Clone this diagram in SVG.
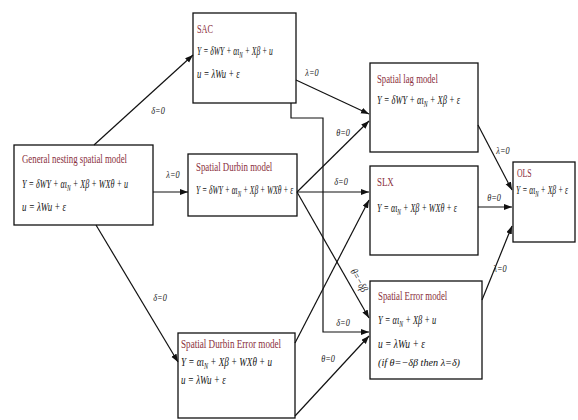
<svg xmlns="http://www.w3.org/2000/svg" width="578" height="420" viewBox="0 0 578 420">
<style>
.box{fill:#fff;stroke:#111;stroke-width:1.3}
.t{font-family:"Liberation Serif",serif;font-size:12.5px;fill:#8a2f3c}
.e{font-family:"Liberation Serif",serif;font-size:12.5px;font-style:italic;fill:#111}
.s{font-size:8.5px}
.lbl{font-family:"Liberation Serif",serif;font-size:11px;font-style:italic;fill:#222;text-anchor:middle}
.c{fill:none;stroke:#111;stroke-width:1.2;marker-end:url(#ah)}
</style>
<defs>
<marker id="ah" markerUnits="userSpaceOnUse" markerWidth="9" markerHeight="7" refX="8" refY="3" orient="auto">
<path d="M0,0 L8,3 L0,6 z" fill="#111"/>
</marker>
</defs>
<rect width="578" height="420" fill="#fff"/>

<g id="general">
<rect class="box" x="14" y="145" width="139" height="80"/>
<text class="t" transform="translate(22,163) scale(0.7,1)" textLength="150" lengthAdjust="spacingAndGlyphs">General nesting spatial model</text>
<text class="e" transform="translate(22,188) scale(0.65,1)" textLength="163" lengthAdjust="spacingAndGlyphs">Y = δWY + αι<tspan class="s" dy="3">N</tspan><tspan dy="-3"> + Xβ + WXθ + u</tspan></text>
<text class="e" transform="translate(22,211) scale(0.7,1)" textLength="63" lengthAdjust="spacingAndGlyphs">u = λWu + ε</text>
</g>

<g id="sac">
<rect class="box" x="193" y="13" width="103" height="90"/>
<text class="t" transform="translate(197,33) scale(0.7,1)" textLength="23" lengthAdjust="spacingAndGlyphs">SAC</text>
<text class="e" transform="translate(197,55) scale(0.61,1)" textLength="124.5" lengthAdjust="spacingAndGlyphs">Y = δWY + αι<tspan class="s" dy="3">N</tspan><tspan dy="-3"> + Xβ + u</tspan></text>
<text class="e" transform="translate(197,78) scale(0.7,1)" textLength="61" lengthAdjust="spacingAndGlyphs">u = λWu + ε</text>
</g>

<g id="durbin">
<rect class="box" x="188" y="154" width="109" height="62"/>
<text class="t" transform="translate(196,171) scale(0.7,1)" textLength="109" lengthAdjust="spacingAndGlyphs">Spatial Durbin model</text>
<text class="e" transform="translate(196,194) scale(0.6,1)" textLength="162" lengthAdjust="spacingAndGlyphs">Y = δWY + αι<tspan class="s" dy="3">N</tspan><tspan dy="-3"> + Xβ + WXθ + ε</tspan></text>
</g>

<g id="durbinError">
<rect class="box" x="178" y="333" width="117" height="85"/>
<text class="t" transform="translate(181,348) scale(0.7,1)" textLength="143" lengthAdjust="spacingAndGlyphs">Spatial Durbin Error model</text>
<text class="e" transform="translate(181,366) scale(0.7,1)" textLength="130" lengthAdjust="spacingAndGlyphs">Y = αι<tspan class="s" dy="3">N</tspan><tspan dy="-3"> + Xβ + WXθ + u</tspan></text>
<text class="e" transform="translate(181,384) scale(0.7,1)" textLength="64" lengthAdjust="spacingAndGlyphs">u = λWu + ε</text>
</g>

<g id="lag">
<rect class="box" x="370" y="63" width="108" height="89"/>
<text class="t" transform="translate(377,83) scale(0.7,1)" textLength="87" lengthAdjust="spacingAndGlyphs">Spatial lag model</text>
<text class="e" transform="translate(377,104) scale(0.67,1)" textLength="124" lengthAdjust="spacingAndGlyphs">Y = δWY + αι<tspan class="s" dy="3">N</tspan><tspan dy="-3"> + Xβ + ε</tspan></text>
</g>

<g id="slx">
<rect class="box" x="370" y="166" width="108" height="89"/>
<text class="t" transform="translate(377,186) scale(0.7,1)" textLength="24" lengthAdjust="spacingAndGlyphs">SLX</text>
<text class="e" transform="translate(377,212) scale(0.645,1)" textLength="124" lengthAdjust="spacingAndGlyphs">Y = αι<tspan class="s" dy="3">N</tspan><tspan dy="-3"> + Xβ + WXθ + ε</tspan></text>
</g>

<g id="error">
<rect class="box" x="370" y="281" width="112" height="98"/>
<text class="t" transform="translate(378,300) scale(0.7,1)" textLength="99" lengthAdjust="spacingAndGlyphs">Spatial Error model</text>
<text class="e" transform="translate(378,324) scale(0.67,1)" textLength="87" lengthAdjust="spacingAndGlyphs">Y = αι<tspan class="s" dy="3">N</tspan><tspan dy="-3"> + Xβ + u</tspan></text>
<text class="e" transform="translate(378,348) scale(0.7,1)" textLength="67" lengthAdjust="spacingAndGlyphs">u = λWu + ε</text>
<text class="e" x="378" y="366" style="font-size:10.5px" textLength="82" lengthAdjust="spacingAndGlyphs">(if θ=−δβ then λ=δ)</text>
</g>

<g id="ols">
<rect class="box" x="513" y="162" width="62" height="80"/>
<text class="t" transform="translate(517,177) scale(0.7,1)" textLength="21" lengthAdjust="spacingAndGlyphs">OLS</text>
<text class="e" transform="translate(516,194) scale(0.605,1)" textLength="86" lengthAdjust="spacingAndGlyphs">Y = αι<tspan class="s" dy="3">N</tspan><tspan dy="-3"> + Xβ + ε</tspan></text>
</g>

<g id="connectors">
<path class="c" d="M94,145 L193,55"/>
<path class="c" d="M153,192 L188,192"/>
<path class="c" d="M96,225 L178,362"/>
<path class="c" d="M296,80 L369,114"/>
<path class="c" d="M297,192 L369,121"/>
<path class="c" d="M297,192 L369,192"/>
<path class="c" d="M297,192 L369,318"/>
<path class="c" d="M295,343 L369,200"/>
<path class="c" d="M295,416 L369,336"/>
<path class="c" d="M291,103 L291,118 L323,118 L323,332 L369,332"/>
<path class="c" d="M478,125 L512,190"/>
<path class="c" d="M478,207 L512,207"/>
<path class="c" d="M482,300 L512,226"/>
</g>

<g id="labels">
<text class="lbl" transform="translate(158,114) scale(0.75,1)">δ=0</text>
<text class="lbl" transform="translate(173,178) scale(0.75,1)">λ=0</text>
<text class="lbl" transform="translate(160,301) scale(0.75,1)">δ=0</text>
<text class="lbl" transform="translate(312,76) scale(0.75,1)">λ=0</text>
<text class="lbl" transform="translate(343,136) scale(0.75,1)">θ=0</text>
<text class="lbl" transform="translate(341,185) scale(0.75,1)">δ=0</text>
<text class="lbl" transform="translate(356,282) rotate(61) scale(0.8,1)">θ=−δβ</text>
<text class="lbl" transform="translate(343,326) scale(0.75,1)">δ=0</text>
<text class="lbl" transform="translate(328,362) scale(0.75,1)">θ=0</text>
<text class="lbl" transform="translate(503,154) scale(0.75,1)">λ=0</text>
<text class="lbl" transform="translate(494,201) scale(0.75,1)">θ=0</text>
<text class="lbl" transform="translate(500,272) scale(0.75,1)">λ=0</text>
</g>
</svg>
